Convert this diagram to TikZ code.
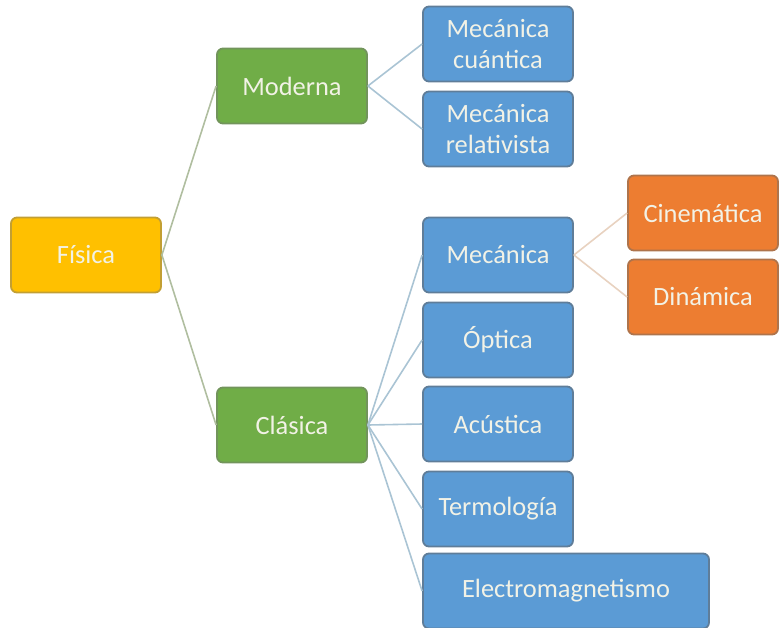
\documentclass[tikz,border=0pt]{standalone}
\usepackage{fontspec}
\setmainfont{Carlito}
\usepackage{tikz}
\usetikzlibrary{calc, shapes, arrows.meta}
\tikzset{>=latex}
\definecolor{fisyellow}{RGB}{255,192,0}
\definecolor{ramgreen}{RGB}{112,173,71}
\definecolor{subblue}{RGB}{91,155,213}
\definecolor{suborange}{RGB}{237,125,49}
\definecolor{paletext}{RGB}{242,242,230}
\definecolor{lnkgreen}{RGB}{176,190,160}
\definecolor{lnkblue}{RGB}{170,196,212}
\definecolor{lnkorange}{RGB}{232,210,192}
\tikzset{
 caja/.style={rectangle, rounded corners=3pt, line width=0.9pt, minimum width=75pt, minimum height=37.5pt, inner sep=1pt, align=center, text=paletext, font=\fontsize{13.2}{15.5}\selectfont},
 raiz/.style={caja, fill=fisyellow, draw=fisyellow!70!black!80},
 rama/.style={caja, fill=ramgreen, draw=ramgreen!70!black!80},
 hoja/.style={caja, fill=subblue, draw=subblue!60!black!80},
 sub/.style={caja, fill=suborange, draw=suborange!65!black!80}
}
\begin{document}
\begin{tikzpicture}[x=0.5pt, y=-0.5pt]
\useasboundingbox (0,0) rectangle (781,627);
% niveles del arbol
\node[raiz] (fis) at (86,255) {Física};
\node[rama] (mod) at (292,86) {Moderna};
\node[rama] (cla) at (292,425) {Clásica};
\node[hoja] (cua) at (498,44) {Mecánica\\cuántica};
\node[hoja] (rel) at (498,129) {Mecánica\\relativista};
\node[hoja] (mec) at (498,255) {Mecánica};
\node[hoja] (opt) at (498,340) {Óptica};
\node[hoja] (acu) at (498,424) {Acústica};
\node[hoja] (ter) at (498,509) {Termología};
\node[hoja, minimum width=143pt] (ele) at (566,591) {Electromagnetismo};
\node[sub] (cin) at (703,213) {Cinemática};
\node[sub] (din) at (703,297) {Dinámica};

\path[line width=0.8pt, draw=lnkgreen]
(fis.east)
edge (mod.west)
edge (cla.west);
\path[line width=0.8pt, draw=lnkblue]
(mod.east)
edge (cua.west)
edge (rel.west)
(cla.east)
edge (mec.west)
edge (opt.west)
edge (acu.west)
edge (ter.west)
edge (ele.west);
\path[line width=0.8pt, draw=lnkorange]
(mec.east)
edge (cin.west)
edge (din.west);
\end{tikzpicture}
\end{document}
